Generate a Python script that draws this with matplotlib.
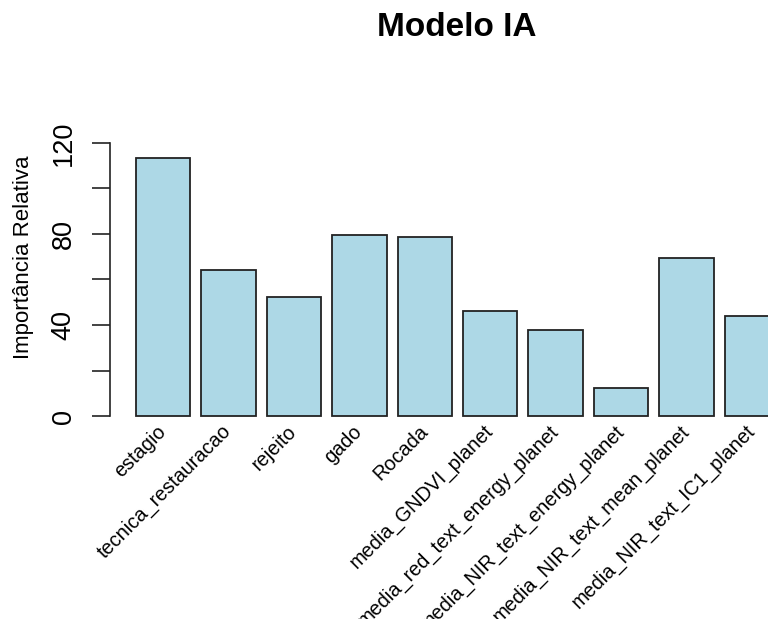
import numpy as np
import matplotlib
matplotlib.use("Agg")
import matplotlib.pyplot as plt

plt.rcParams['font.family'] = ['Liberation Sans', 'DejaVu Sans']

# relative importance of each predictor
variaveis = ['estagio', 'tecnica_restauracao', 'rejeito', 'gado', 'Rocada',
             'media_GNDVI_planet', 'media_red_text_energy_planet',
             'media_NIR_text_energy_planet', 'media_NIR_text_mean_planet',
             'media_NIR_text_IC1_planet']
importancia = [113.4, 64.2, 52.3, 79.6, 78.7, 46.2, 37.8, 12.3, 69.5, 44.0]
yticks = [0, 20, 40, 60, 80, 100, 120]
ylabels = ['0', '', '40', '', '80', '', '120']

W, H = 768, 619
fig = plt.figure(figsize=(W / 100, H / 100), dpi=100)
# plot region in pixels (R barplot style layout), runs past the right edge
left, right, top, bottom = 110, 805, 132, 427
ax = fig.add_axes([left / W, 1 - bottom / H, (right - left) / W, (bottom - top) / H])

n = len(importancia)
centros = 0.7 + 1.2 * np.arange(n)
ax.bar(centros, importancia, width=1.0, color='#ADD8E6', edgecolor='#222222',
       linewidth=1.3)

ax.set_xlim(-0.272, 12.472)
ax.set_ylim(-4.8, 124.8)

for s in ['top', 'right', 'bottom']:
    ax.spines[s].set_visible(False)
ax.spines['left'].set_bounds(0, 120)
ax.spines['left'].set_linewidth(1.2)
ax.spines['left'].set_color('#222222')

ax.set_yticks(yticks)
ax.set_yticklabels(ylabels, rotation=90, va='center', fontsize=19.5)
ax.tick_params(axis='y', length=13, width=1.2, color='#222222', pad=11)

ax.set_xticks(centros)
ax.set_xticklabels(variaveis, rotation=45, ha='right', va='center',
                   rotation_mode='anchor', fontsize=14.3)
ax.tick_params(axis='x', length=0, pad=1)

fig.text(457 / W, 1 - 28 / H, 'Modelo IA', ha='center', va='center',
         fontsize=24, fontweight='bold')
fig.text(24 / W, 1 - 257 / H, 'Importância Relativa', ha='center', va='center',
         rotation=90, fontsize=16)

fig.savefig('out.png', dpi=100)
